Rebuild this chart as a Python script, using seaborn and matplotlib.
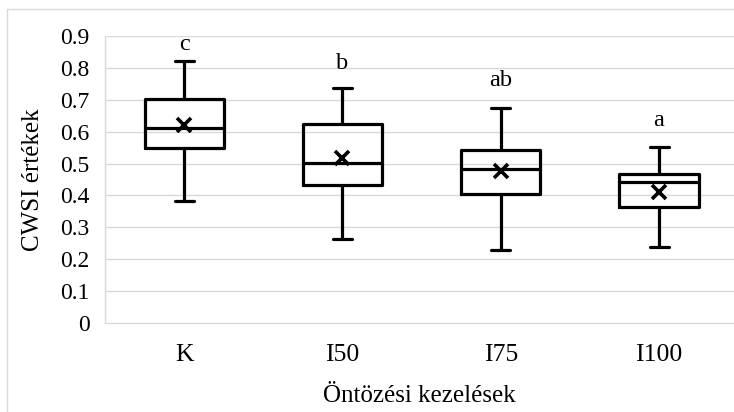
import numpy as np
import pandas as pd
import matplotlib
matplotlib.use("Agg")
import matplotlib.pyplot as plt
from matplotlib.patches import Rectangle
import seaborn as sns

categories = ["K", "I50", "I75", "I100"]
whisker_low = [0.383, 0.263, 0.229, 0.239]
q1 = [0.548, 0.432, 0.403, 0.365]
median = [0.612, 0.501, 0.484, 0.441]
q3 = [0.701, 0.623, 0.542, 0.466]
whisker_high = [0.821, 0.737, 0.675, 0.551]
means = [0.622, 0.518, 0.476, 0.412]
letters = ["c", "b", "ab", "a"]
letter_y = [0.857, 0.798, 0.743, 0.618]
y_ticks = [0, 0.1, 0.2, 0.3, 0.4, 0.5, 0.6, 0.7, 0.8, 0.9]
y_tick_labels = ["0", "0.1", "0.2", "0.3", "0.4", "0.5", "0.6", "0.7", "0.8", "0.9"]

# five-number summaries -> rows whose quartiles reproduce the boxes exactly
rows = []
for c, lo, a, m, b, hi in zip(categories, whisker_low, q1, median, q3, whisker_high):
    for v in (lo, a, m, b, hi):
        rows.append({"group": c, "value": v})
df = pd.DataFrame(rows)

sns.set_theme(style="white")
plt.rcParams["font.family"] = ["Liberation Serif", "DejaVu Serif"]

fig = plt.figure(figsize=(7.34, 4.12), dpi=100)
W, H = 734, 412
ax = fig.add_axes([105 / W, (H - 323) / H, (W - 105) / W, (323 - 36) / H])

grid_c = "#d9d9d9"
for t in y_ticks[1:]:
    ax.axhline(t, color=grid_c, lw=1.0, zorder=0)

sns.boxplot(data=df, x="group", y="value", order=categories, whis=(0, 100),
            width=0.5, fill=False, color="black", linewidth=2.3,
            linecolor="black", ax=ax, zorder=3)

# cap widths
for line in ax.lines:
    xd = np.asarray(line.get_xdata(), dtype=float)
    yd = np.asarray(line.get_ydata(), dtype=float)
    if len(xd) == 2 and yd[0] == yd[1] and abs(xd[1] - xd[0]) < 0.49:
        cx = xd.mean()
        line.set_xdata([cx - 0.06, cx + 0.06])

sns.pointplot(x=categories, y=means, order=categories, linestyle="none",
              marker="x", color="black", markersize=10, markeredgewidth=2.6,
              errorbar=None, ax=ax, zorder=4)

for i, (lab, yy) in enumerate(zip(letters, letter_y)):
    ax.text(i, yy, lab, ha="center", va="baseline", fontsize=17.5, color="black")

ax.set_xlim(-0.5, (W - 105) / 158.3 - 0.5)
ax.set_ylim(0, 0.9)
ax.set_yticks(y_ticks)
ax.set_yticklabels(y_tick_labels)
ax.tick_params(axis="both", length=0, colors="black")
ax.tick_params(axis="y", pad=11, labelsize=17)
ax.tick_params(axis="x", pad=15, labelsize=18.5)
ax.set_xlabel("Öntözési kezelések", fontsize=18, labelpad=14, color="black")
ax.set_ylabel("CWSI értékek", fontsize=18, labelpad=12, color="black")

for s in ["top", "right"]:
    ax.spines[s].set_visible(False)
for s in ["left", "bottom"]:
    ax.spines[s].set_color(grid_c)
    ax.spines[s].set_linewidth(1.0)

fig.add_artist(Rectangle((7 / W, -0.2), 2.0, (H - 9) / H + 0.2, fill=False,
                         edgecolor=grid_c, lw=1.0, transform=fig.transFigure))

fig.savefig("out.png", dpi=100)
